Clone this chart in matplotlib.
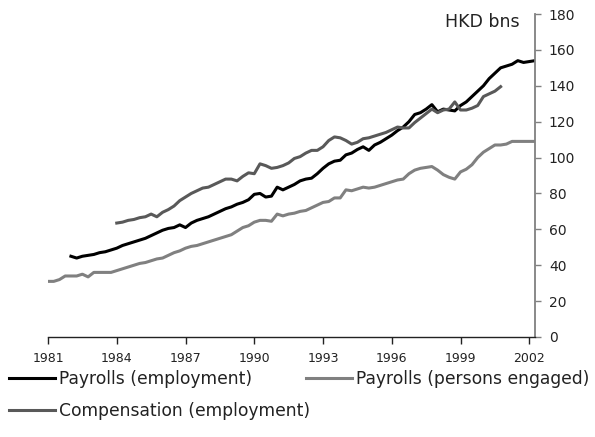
import numpy as np
import matplotlib
matplotlib.use("Agg")
import matplotlib.pyplot as plt

# quarterly series, first value is 1981Q1 / 1982Q1 / 1984Q1
persons_start = 0
persons_engaged = [
    31, 31, 32, 34, 34, 34, 35, 33.5, 36, 36, 36, 36,
    37, 38, 39, 40, 41, 41.5, 42.5, 43.5, 44, 45.5, 47, 48,
    49.5, 50.5, 51, 52, 53, 54, 55, 56, 57, 59, 61, 62,
    64, 65, 65, 64.5, 68.5, 67.5, 68.5, 69, 70, 70.5, 72, 73.5,
    75, 75.5, 77.5, 77.5, 82, 81.5, 82.5, 83.5, 83, 83.5, 84.5, 85.5,
    86.5, 87.5, 88, 91, 93, 94, 94.5, 95, 93, 90.5, 89, 88,
    92, 93.5, 96, 100, 103, 105, 107, 107, 107.5, 109, 109, 109,
    109, 109,
]

employment_start = 4
employment = [
    45, 44, 45, 45.5, 46, 47, 47.5, 48.5,
    49.5, 51, 52, 53, 54, 55, 56.5, 58, 59.5, 60.5, 61, 62.5,
    61, 63.5, 65, 66, 67, 68.5, 70, 71.5, 72.5, 74, 75, 76.5,
    79.5, 80, 78, 78.5, 83.5, 82, 83.5, 85, 87, 88, 88.5, 91,
    94, 96.5, 98, 98.5, 101.5, 102.5, 104.5, 106, 104, 107, 108.5, 110.5,
    112.5, 115, 117, 120, 124, 125, 127, 129.5, 125.5, 127, 126.5, 126,
    129, 131, 134, 137, 140, 144, 147, 150, 151, 152, 154, 153,
    153.5, 154,
]

compensation_start = 12
compensation = [
    63.5, 64, 65, 65.5, 66.5, 67, 68.5, 67, 69.5, 71, 73, 76,
    78, 80, 81.5, 83, 83.5, 85, 86.5, 88, 88, 87, 89.5, 91.5,
    91, 96.5, 95.5, 94, 94.5, 95.5, 97, 99.5, 100.5, 102.5, 104, 104,
    106, 109.5, 111.5, 111, 109.5, 107.5, 108.5, 110.5, 111, 112, 113, 114,
    115.5, 117, 116.5, 116.5, 119.5, 122, 124.5, 127, 125, 126.5, 127, 131,
    126.5, 126.5, 127.5, 129, 134, 135.5, 137, 139.5,
]

year_labels = ["1981", "1984", "1987", "1990", "1993", "1996", "1999", "2002"]

plt.rcParams['font.family'] = ['DejaVu Sans']

fig = plt.figure(figsize=(5.95, 4.37), dpi=100)
ax = fig.add_axes([48 / 595, 1 - 337 / 437, 487 / 595, 323 / 437])

x_e = np.arange(len(employment)) + employment_start
x_p = np.arange(len(persons_engaged)) + persons_start
x_c = np.arange(len(compensation)) + compensation_start

l_e, = ax.plot(x_e, employment, color="#000000", lw=2.2, label="Payrolls (employment)")
l_p, = ax.plot(x_p, persons_engaged, color="#808080", lw=2.2, label="Payrolls (persons engaged)")
l_c, = ax.plot(x_c, compensation, color="#595959", lw=2.2, label="Compensation (employment)")

ax.set_xlim(0, 85)
ax.set_ylim(0, 180)
ax.set_yticks(range(0, 181, 20))
ax.set_xticks(np.arange(len(year_labels)) * 12)
ax.set_xticklabels(year_labels, fontsize=9, color="#222222")

ax.yaxis.tick_right()
ax.tick_params(axis="y", direction="out", length=4, width=1, color="#808080",
               labelsize=10, labelcolor="#222222", pad=6)
ax.tick_params(axis="x", direction="out", length=5, width=1, color="#222222", pad=6)

for s in ["top", "left"]:
    ax.spines[s].set_visible(False)
ax.spines["right"].set_color("#808080")
ax.spines["right"].set_linewidth(1.3)
ax.spines["bottom"].set_color("#222222")
ax.spines["bottom"].set_linewidth(1.0)

fig.text(520 / 595, 1 - 22 / 437, "HKD bns", ha="right", va="center",
         fontsize=12.5, color="#222222")

leg_kw = dict(loc="upper left", frameon=False, fontsize=12.3, borderaxespad=0,
              borderpad=0, handlelength=2.7, handletextpad=0.2,
              labelcolor="#222222")
leg1 = fig.legend(handles=[l_e, l_p], ncol=2, columnspacing=3.2,
                  bbox_to_anchor=(9 / 595, 1 - 370 / 437), **leg_kw)
leg2 = fig.legend(handles=[l_c], bbox_to_anchor=(9 / 595, 1 - 402 / 437), **leg_kw)

fig.savefig("out.png", dpi=100)
